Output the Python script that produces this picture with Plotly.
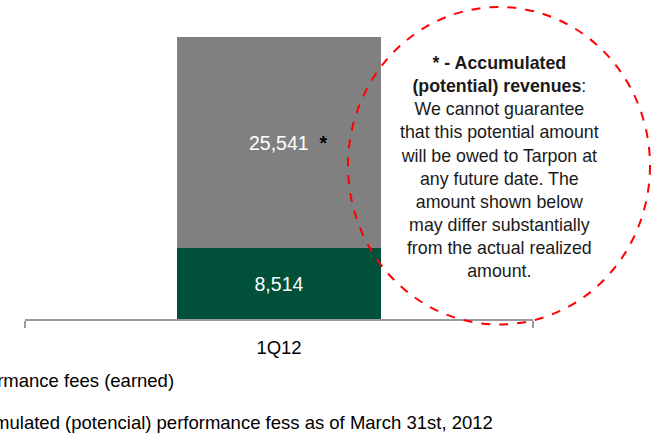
import plotly.graph_objects as go

# Quarter on the category axis
categories = ["1Q12"]

# Performance fees, R$ thousand
earned_fees = [8514]
accumulated_fees = [25541]

series_names = [
    "Performance fees (earned)",
    "Accumulated (potencial) performance fess as of March 31st, 2012",
]

note_text = (
    "<b>* - Accumulated<br>(potential) revenues</b>:<br>"
    "We cannot guarantee<br>that this potential amount<br>"
    "will be owed to Tarpon at<br>any future date. The<br>"
    "amount shown below<br>may differ substantially<br>"
    "from the actual realized<br>amount."
)

FONT = "Liberation Sans, Arial, Helvetica, sans-serif"
GREEN = "#00503a"
GREY = "#808080"
AXIS_GREY = "#9a9a9a"

x_pos = list(range(len(categories)))

fig = go.Figure()
fig.add_trace(go.Bar(
    x=x_pos, y=earned_fees, name=series_names[0],
    marker=dict(color=GREEN, line=dict(width=0)),
    width=0.4,
    texttemplate="%{y:,}",
    textposition="inside", insidetextanchor="middle", textangle=0,
    textfont=dict(color="white", size=19.5, family=FONT),
    legendgroup="g1", hoverinfo="skip",
))
fig.add_trace(go.Bar(
    x=x_pos, y=accumulated_fees, name=series_names[1],
    marker=dict(color=GREY, line=dict(width=0)),
    width=0.4,
    texttemplate=(
        "<span style='color:rgba(0,0,0,0)'><b>*</b>&nbsp;&nbsp;</span>%{y:,}"
        "&nbsp;&nbsp;<span style='color:black'><b>*</b></span>"
    ),
    textposition="inside", insidetextanchor="middle", textangle=0,
    textfont=dict(color="white", size=19.5, family=FONT),
    legendgroup="g2", hoverinfo="skip",
))

total = earned_fees[0] + accumulated_fees[0]

fig.update_layout(
    barmode="stack",
    width=656, height=434,
    margin=dict(l=25, r=123, t=7, b=114.5, autoexpand=False),
    paper_bgcolor="white", plot_bgcolor="white",
    font=dict(family=FONT, color="black", size=18),
    showlegend=True,
    legend=dict(
        orientation="v", x=-0.2205, xanchor="left", y=-0.134, yanchor="top",
        traceorder="grouped", tracegroupgap=15,
        font=dict(size=18.5, family=FONT, color="black"),
        bgcolor="rgba(0,0,0,0)",
    ),
    xaxis=dict(
        range=[-0.5, 0.5], tickmode="array", tickvals=x_pos, ticktext=categories,
        ticks="", showgrid=False, zeroline=False,
        showline=True, linecolor=AXIS_GREY, linewidth=2,
        tickfont=dict(size=18.5, family=FONT, color="black"),
        ticklabelstandoff=11,
        minor=dict(tickvals=[-0.5, 0.5], ticks="outside", ticklen=7,
                   tickwidth=2, tickcolor=AXIS_GREY, showgrid=False),
    ),
    yaxis=dict(
        range=[0, total * 1.106], visible=False, showgrid=False, zeroline=False,
    ),
    shapes=[dict(
        type="circle", xref="paper", yref="paper",
        x0=0.6358, x1=1.2303, y0=-0.0176, y1=1.0,
        line=dict(color="#ff0000", width=2, dash="dash"),
        layer="above",
    )],
    annotations=[dict(
        xref="paper", yref="paper", x=0.935, y=0.4864,
        xanchor="center", yanchor="middle", align="center",
        text=note_text, showarrow=False,
        font=dict(size=17.8, family=FONT, color="#1a1a1a"),
    )],
)

fig.write_html("out.html")
